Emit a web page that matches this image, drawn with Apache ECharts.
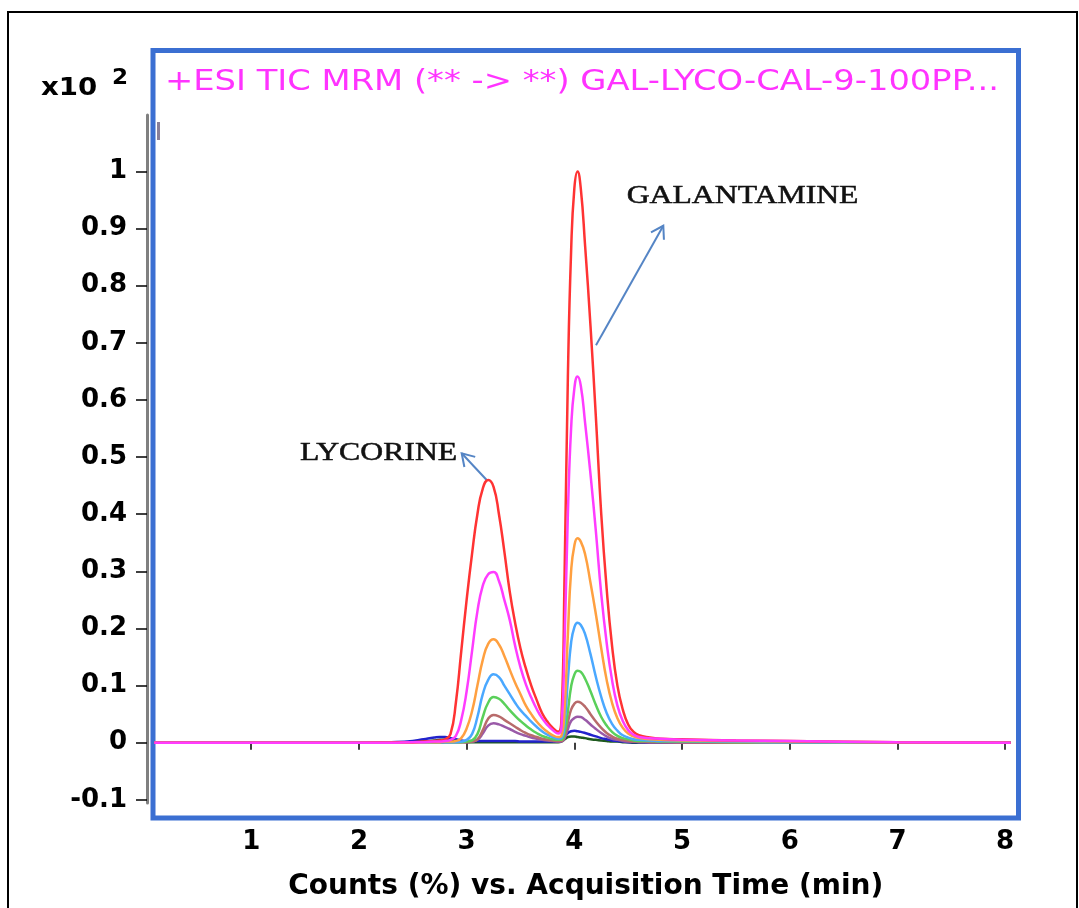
<!DOCTYPE html>
<html><head><meta charset="utf-8">
<script src="https://cdn.jsdelivr.net/npm/echarts@6/dist/echarts.min.js"></script>
<style>html,body{margin:0;padding:0;background:#fff}#c{width:1079px;height:908px}</style>
</head><body><div id="c"></div>
<script>
// acquisition time (min)
const times = [
  0.1, 1.0, 2.0, 2.3, 2.5,
  2.6, 2.7, 2.75, 2.8, 2.85,
  2.9, 2.95, 3.0, 3.05, 3.1,
  3.15, 3.2, 3.25, 3.3, 3.35,
  3.4, 3.45, 3.5, 3.55, 3.6,
  3.65, 3.7, 3.75, 3.8, 3.85,
  3.88, 3.91, 3.94, 3.97, 4.0,
  4.03, 4.06, 4.1, 4.15, 4.2,
  4.25, 4.3, 4.35, 4.4, 4.45,
  4.5, 4.55, 4.6, 4.7, 4.8,
  5.0, 5.5, 6.0, 7.0, 8.05
];
const redValues = [
  0, 0, 0, 0.0005, 0.001,
  0.002, 0.003, 0.004, 0.006, 0.015,
  0.07, 0.16, 0.25, 0.33, 0.40,
  0.445, 0.46, 0.448, 0.40, 0.335,
  0.265, 0.21, 0.165, 0.13, 0.10,
  0.075, 0.052, 0.037, 0.026, 0.019,
  0.04, 0.30, 0.64, 0.86, 0.97,
  1.0, 0.97, 0.87, 0.73, 0.57,
  0.40, 0.27, 0.17, 0.10, 0.058,
  0.032, 0.019, 0.013, 0.009, 0.007,
  0.006, 0.004, 0.003, 0.001, 0
];
const magentaValues = [
  0, 0, 0, 0, 0.001,
  0.001, 0.002, 0.002, 0.003, 0.005,
  0.012, 0.04, 0.09, 0.16, 0.23,
  0.275, 0.295, 0.299, 0.283, 0.25,
  0.215, 0.17, 0.132, 0.102, 0.079,
  0.059, 0.043, 0.031, 0.022, 0.016,
  0.026, 0.18, 0.40, 0.55, 0.62,
  0.641, 0.625, 0.56, 0.47, 0.37,
  0.26, 0.175, 0.11, 0.065, 0.038,
  0.022, 0.014, 0.01, 0.008, 0.007,
  0.005, 0.004, 0.003, 0.001, 0
];
const orangeValues = [
  0, 0, 0, 0, 0,
  0.001, 0.001, 0.001, 0.002, 0.002,
  0.003, 0.008, 0.025, 0.055, 0.10,
  0.145, 0.173, 0.181, 0.172, 0.152,
  0.128, 0.105, 0.085, 0.065, 0.05,
  0.037, 0.027, 0.019, 0.013, 0.01,
  0.012, 0.06, 0.19, 0.30, 0.345,
  0.358, 0.352, 0.33, 0.28, 0.225,
  0.165, 0.11, 0.07, 0.043, 0.026,
  0.016, 0.011, 0.008, 0.006, 0.005,
  0.004, 0.003, 0.002, 0.001, 0
];
const lightBlueValues = [
  0, 0, 0, 0, 0,
  0, 0.001, 0.001, 0.001, 0.001,
  0.001, 0.002, 0.005, 0.015, 0.045,
  0.085, 0.11, 0.12, 0.115, 0.10,
  0.085, 0.07, 0.057, 0.047, 0.037,
  0.028, 0.02, 0.014, 0.01, 0.007,
  0.008, 0.035, 0.11, 0.175, 0.202,
  0.21, 0.206, 0.19, 0.155, 0.115,
  0.08, 0.052, 0.033, 0.021, 0.013,
  0.009, 0.006, 0.005, 0.004, 0.003,
  0.003, 0.002, 0.001, 0.001, 0
];
const greenValues = [
  0, 0, 0, 0, 0,
  0, 0.001, 0.001, 0.001, 0.001,
  0.001, 0.001, 0.002, 0.004, 0.015,
  0.045, 0.07, 0.08, 0.077, 0.068,
  0.057, 0.047, 0.038, 0.03, 0.023,
  0.017, 0.012, 0.009, 0.006, 0.005,
  0.005, 0.018, 0.055, 0.098, 0.119,
  0.126, 0.124, 0.112, 0.09, 0.066,
  0.045, 0.03, 0.019, 0.012, 0.008,
  0.006, 0.004, 0.003, 0.003, 0.002,
  0.002, 0.001, 0.001, 0, 0
];
const brownValues = [
  0, 0, 0, 0, 0,
  0, 0, 0, 0.001, 0.001,
  0.001, 0.001, 0.001, 0.002, 0.006,
  0.022, 0.042, 0.0485, 0.046, 0.04,
  0.034, 0.028, 0.022, 0.017, 0.013,
  0.01, 0.007, 0.005, 0.004, 0.003,
  0.003, 0.012, 0.036, 0.058, 0.068,
  0.0718, 0.07, 0.063, 0.05, 0.037,
  0.026, 0.017, 0.011, 0.007, 0.005,
  0.003, 0.002, 0.002, 0.001, 0.001,
  0.001, 0, 0, 0, 0
];
const purpleValues = [
  0, 0, 0, 0, 0,
  0, 0, 0, 0.001, 0.001,
  0.001, 0.001, 0.001, 0.002, 0.005,
  0.016, 0.03, 0.034, 0.032, 0.028,
  0.024, 0.019, 0.015, 0.012, 0.009,
  0.007, 0.005, 0.004, 0.003, 0.002,
  0.002, 0.008, 0.024, 0.038, 0.043,
  0.0455, 0.045, 0.04, 0.032, 0.024,
  0.017, 0.011, 0.007, 0.005, 0.003,
  0.002, 0.002, 0.001, 0.001, 0.001,
  0, 0, 0, 0, 0
];
const darkBlueValues = [
  0, 0, 0, 0.001, 0.003,
  0.006, 0.009, 0.01, 0.01, 0.008,
  0.006, 0.004, 0.003, 0.003, 0.003,
  0.003, 0.003, 0.003, 0.003, 0.003,
  0.003, 0.003, 0.002, 0.002, 0.002,
  0.002, 0.002, 0.002, 0.002, 0.002,
  0.003, 0.01, 0.017, 0.02, 0.021,
  0.02, 0.019, 0.017, 0.014, 0.011,
  0.008, 0.006, 0.004, 0.003, 0.002,
  0.001, 0.001, 0.001, 0, 0,
  0, 0, 0, 0, 0
];
const darkGreenValues = [
  0, 0, 0, 0, 0.001,
  0.002, 0.004, 0.005, 0.005, 0.004,
  0.003, 0.002, 0.001, 0.001, 0.001,
  0.001, 0.001, 0.001, 0.001, 0.001,
  0.001, 0.001, 0.001, 0.001, 0.001,
  0.001, 0.001, 0.001, 0.001, 0.001,
  0.002, 0.006, 0.01, 0.011, 0.011,
  0.01, 0.009, 0.008, 0.006, 0.005,
  0.004, 0.003, 0.002, 0.002, 0.001,
  0.001, 0, 0, 0, 0,
  0, 0, 0, 0, 0
];
const xTickValues = [1, 2, 3, 4, 5, 6, 7, 8];
const yTickValues = [-0.1, 0, 0.1, 0.2, 0.3, 0.4, 0.5, 0.6, 0.7, 0.8, 0.9, 1];
const titleText = '+ESI TIC MRM (** -> **) GAL-LYCO-CAL-9-100PP...';
const xAxisTitle = 'Counts (%) vs. Acquisition Time (min)';
const annotations = [
  { text: 'LYCORINE', textAt: [1.453, 0.5067], from: [3.186, 0.46], to: [2.954, 0.5067] },
  { text: 'GALANTAMINE', textAt: [4.486, 0.956], from: [4.201, 0.696], to: [4.826, 0.905] }
];

const seriesDefs = [
  { name: 'dkgreen', values: darkGreenValues, color: '#1e5a1e' },
  { name: 'dkblue', values: darkBlueValues, color: '#2222cc' },
  { name: 'purple', values: purpleValues, color: '#9a5aa8' },
  { name: 'brown', values: brownValues, color: '#b86b6b' },
  { name: 'green', values: greenValues, color: '#5ad05a' },
  { name: 'lightblue', values: lightBlueValues, color: '#4aa8ff' },
  { name: 'orange', values: orangeValues, color: '#ffa040' },
  { name: 'red', values: redValues, color: '#ff3333' },
  { name: 'magenta', values: magentaValues, color: '#ff3cff' }
];

const chart = echarts.init(document.getElementById('c'), null, { renderer: 'canvas' });
const labelFont = { fontFamily: 'DejaVu Sans', fontWeight: 'bold', fontSize: 26, color: '#000' };

chart.setOption({
  animation: false,
  backgroundColor: '#fff',
  grid: [
    { left: 153, top: 50.5, right: 60.5, bottom: 90, show: true, borderColor: '#3b6fd2', borderWidth: 5, backgroundColor: 'transparent' },
    { left: 147, top: 115, bottom: 105, right: 60, show: false }
  ],
  xAxis: [
    {
      type: 'value', gridIndex: 0, min: 0.088, max: 8.124, offset: 7,
      axisLine: { show: false },
      axisTick: { show: true, customValues: xTickValues, length: 7, lineStyle: { color: '#000', width: 1.5 } },
      axisLabel: Object.assign({ customValues: xTickValues, margin: 4 }, labelFont),
      splitLine: { show: false },
      name: xAxisTitle, nameLocation: 'middle', nameGap: 48,
      nameTextStyle: { fontFamily: 'DejaVu Sans', fontWeight: 'bold', fontSize: 28, color: '#000' }
    },
    { type: 'value', gridIndex: 1, show: false, min: 0, max: 1 }
  ],
  yAxis: [
    {
      type: 'value', gridIndex: 0, min: -0.1318, max: 1.2118, offset: 6,
      axisLine: { show: false },
      axisTick: { show: true, customValues: yTickValues, length: 11, lineStyle: { color: '#000', width: 1.5 } },
      axisLabel: Object.assign({ customValues: yTickValues, margin: 20, formatter: v => String(Math.round(v * 10) / 10) }, labelFont),
      splitLine: { show: false }
    },
    {
      type: 'value', gridIndex: 1, min: 0, max: 1,
      axisLine: { show: true, lineStyle: { color: '#808080', width: 3 } },
      axisTick: { show: false }, axisLabel: { show: false }, splitLine: { show: false }
    }
  ],
  series: seriesDefs.map(s => ({
    name: s.name, type: 'line', xAxisIndex: 0, yAxisIndex: 0,
    data: times.map((t, i) => [t, s.values[i]]),
    showSymbol: false, smooth: 0.5,
    lineStyle: { color: s.color, width: 2.5 },
    itemStyle: { color: s.color }
  }))
});

function buildGraphics() {
  const g = [];
  g.push({ type: 'rect', shape: { x: 8, y: 12, width: 1069, height: 920 }, style: { fill: 'none', stroke: '#000', lineWidth: 2 }, silent: true });
  g.push({ type: 'rect', shape: { x: 157, y: 122, width: 3, height: 18 }, style: { fill: '#8a7f98' }, silent: true });
  g.push({ type: 'text', x: 165, y: 83, scaleX: 1.205, style: { text: titleText, font: '28px "DejaVu Sans"', fill: '#ff33ff', verticalAlign: 'middle', align: 'left' } });
  g.push({ type: 'text', x: 41, y: 89, scaleX: 1.15, style: { text: 'x10', font: 'bold 24px "DejaVu Sans"', fill: '#000', verticalAlign: 'middle', align: 'left' } });
  g.push({ type: 'text', x: 112, y: 79, scaleX: 1.1, style: { text: '2', font: 'bold 21px "DejaVu Sans"', fill: '#000', verticalAlign: 'middle', align: 'left' } });
  annotations.forEach(a => {
    const tp = chart.convertToPixel({ gridIndex: 0 }, a.textAt);
    g.push({ type: 'text', x: tp[0], y: tp[1], scaleX: 1.22, style: { text: a.text, font: '26px "Liberation Serif"', fill: '#111', stroke: '#111', lineWidth: 0.5, verticalAlign: 'middle', align: 'left' } });
    const p0 = chart.convertToPixel({ gridIndex: 0 }, a.from);
    const p1 = chart.convertToPixel({ gridIndex: 0 }, a.to);
    const dx = p0[0] - p1[0], dy = p0[1] - p1[1];
    const len = Math.hypot(dx, dy);
    const ux = dx / len, uy = dy / len;
    const ang = 32 * Math.PI / 180, L = 14;
    const rot = (c, s) => [p1[0] + L * (ux * c - uy * s), p1[1] + L * (ux * s + uy * c)];
    const arm1 = rot(Math.cos(ang), Math.sin(ang));
    const arm2 = rot(Math.cos(-ang), Math.sin(-ang));
    const st = { stroke: '#5585c5', lineWidth: 2, fill: 'none' };
    g.push({ type: 'line', shape: { x1: p0[0], y1: p0[1], x2: p1[0], y2: p1[1] }, style: st });
    g.push({ type: 'polyline', shape: { points: [arm1, p1, arm2] }, style: st });
  });
  return g;
}
chart.setOption({ graphic: buildGraphics() });
</script>
</body></html>
